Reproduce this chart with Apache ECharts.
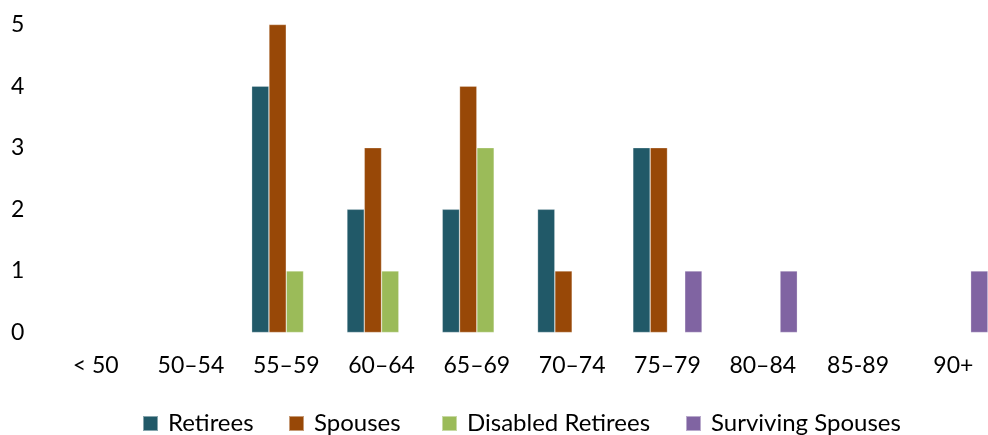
<!DOCTYPE html>
<html>
<head>
<meta charset="utf-8">
<script src="https://cdn.jsdelivr.net/npm/echarts@6/dist/echarts.min.js"></script>
<style>
  html, body { margin: 0; padding: 0; background: #fff; }
  #chart { width: 988px; height: 435px; }
</style>
</head>
<body>
<div id="chart"></div>
<script>
// Age groups along the horizontal axis
const ageGroups = ['< 50', '50–54', '55–59', '60–64', '65–69', '70–74', '75–79', '80–84', '85-89', '90+'];

// Counts per age group for each beneficiary type
const retirees         = [0, 0, 4, 2, 2, 2, 3, 0, 0, 0];
const spouses          = [0, 0, 5, 3, 4, 1, 3, 0, 0, 0];
const disabledRetirees = [0, 0, 1, 1, 3, 0, 0, 0, 0, 0];
const survivingSpouses = [0, 0, 0, 0, 0, 0, 1, 1, 0, 1];

// Value-axis ticks
const yTicks = [0, 1, 2, 3, 4, 5];

const seriesNames = ['Retirees', 'Spouses', 'Disabled Retirees', 'Surviving Spouses'];
const seriesValues = [retirees, spouses, disabledRetirees, survivingSpouses];
const seriesColors = ['#215968', '#984807', '#9BBB59', '#8064A2'];

const fontFamily = 'Lato, "Open Sans", sans-serif';

// One legend block per series so each entry sits at its own spot
const legendLefts = [137, 283, 436, 680];
const legends = seriesNames.map((name, i) => ({
  left: legendLefts[i],
  top: 405,
  padding: 5,
  itemWidth: 15,
  itemHeight: 15,
  icon: 'rect',
  textStyle: { fontSize: 24, lineHeight: 27, color: '#000', fontFamily: fontFamily, padding: [0, 0, 0, 5] },
  data: [name]
}));

const chart = echarts.init(document.getElementById('chart'));
chart.setOption({
  animation: false,
  textStyle: { fontFamily: fontFamily },
  // the last category runs past the right edge of the canvas
  grid: { left: 48, width: 953, top: 24.5, bottom: 102.5, containLabel: false, outerBoundsMode: 'none' },
  legend: legends,
  xAxis: {
    type: 'category',
    data: ageGroups,
    axisLine: { show: false },
    axisTick: { show: false },
    splitLine: { show: false },
    axisLabel: { color: '#000', fontSize: 23, margin: 22, fontFamily: fontFamily, interval: 0 }
  },
  yAxis: {
    type: 'value',
    min: yTicks[0],
    max: yTicks[yTicks.length - 1],
    interval: 1,
    axisLine: { show: false },
    axisTick: { show: false },
    splitLine: { show: false },
    axisLabel: { color: '#000', fontSize: 23, align: 'left', margin: 37, fontFamily: fontFamily }
  },
  series: seriesNames.map((name, i) => ({
    name: name,
    type: 'bar',
    data: seriesValues[i],
    barWidth: 17.3,
    barGap: '0%',
    itemStyle: {
      color: seriesColors[i],
      borderColor: 'rgba(255,255,255,0.45)',
      borderWidth: 0.6
    }
  }))
});
</script>
</body>
</html>
